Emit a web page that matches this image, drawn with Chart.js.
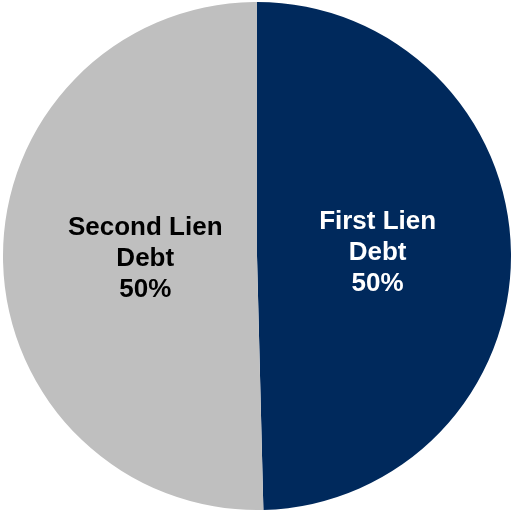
<!DOCTYPE html>
<html>
<head>
<meta charset="utf-8">
<script src="https://cdn.jsdelivr.net/npm/chart.js@4/dist/chart.umd.min.js"></script>
<style>
  html, body { margin: 0; padding: 0; background: #ffffff; }
  #wrap { position: relative; width: 513px; height: 514px; }
</style>
</head>
<body>
<div id="wrap"><canvas id="c"></canvas></div>
<script>
const categories = ["First Lien Debt", "Second Lien Debt"];
const labelLines = [["First Lien", "Debt"], ["Second Lien", "Debt"]];
const values = [49.6, 50.4];
const percentLabels = ["50%", "50%"];
const colors = ["#00295C", "#BFBFBF"];
const textColors = ["#FFFFFF", "#000000"];

const labelPlugin = {
  id: 'sliceLabels',
  afterDatasetsDraw(chart) {
    const ctx = chart.ctx;
    const meta = chart.getDatasetMeta(0);
    ctx.save();
    ctx.font = 'bold 26px "Liberation Sans", Arial, sans-serif';
    ctx.textAlign = 'center';
    ctx.textBaseline = 'middle';
    const lineH = 31;
    meta.data.forEach((arc, i) => {
      const p = arc.getProps(['x', 'y', 'startAngle', 'endAngle', 'outerRadius'], true);
      const mid = (p.startAngle + p.endAngle) / 2;
      const f = i === 0 ? 0.475 : 0.44;
      const dy = i === 0 ? -2 : 1;
      const x = p.x + Math.cos(mid) * p.outerRadius * f;
      const y = p.y + Math.sin(mid) * p.outerRadius * f + dy;
      const lines = labelLines[i].concat([percentLabels[i]]);
      ctx.fillStyle = textColors[i];
      lines.forEach((t, k) => {
        ctx.fillText(t, x, y + (k - (lines.length - 1) / 2) * lineH);
      });
    });
    ctx.restore();
  }
};

new Chart(document.getElementById('c'), {
  type: 'pie',
  data: {
    labels: categories,
    datasets: [{
      data: values,
      backgroundColor: colors,
      borderWidth: 0
    }]
  },
  options: {
    responsive: true,
    maintainAspectRatio: false,
    animation: false,
    layout: { padding: { left: 3, right: 2, top: 2, bottom: 4 } },
    plugins: {
      legend: { display: false },
      tooltip: { enabled: false }
    }
  },
  plugins: [labelPlugin]
});
</script>
</body>
</html>
